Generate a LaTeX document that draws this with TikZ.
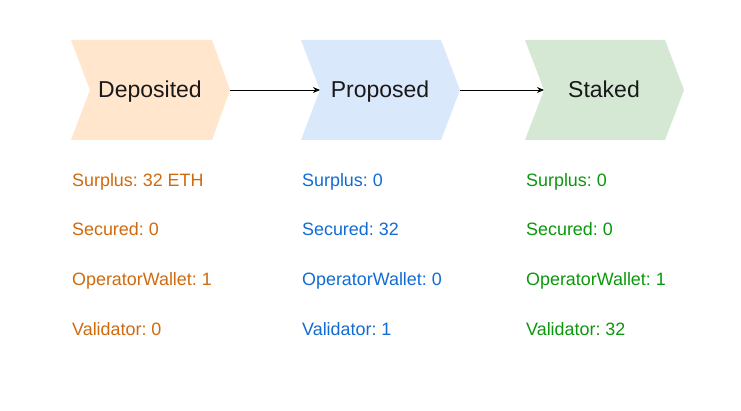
\documentclass[tikz,border=0pt]{standalone}
\usepackage{fontspec}
\setmainfont{Liberation Sans}
\usetikzlibrary{arrows.meta}
\definecolor{orfill}{HTML}{FFE6CC}
\definecolor{blfill}{HTML}{DAE8FC}
\definecolor{grfill}{HTML}{D5E8D4}
\definecolor{ortext}{RGB}{208,106,16}
\definecolor{bltext}{RGB}{18,108,212}
\definecolor{grtext}{RGB}{12,152,12}
\tikzset{
  chevlabel/.style={anchor=base, inner sep=0pt, font=\fontsize{23}{27}\selectfont\frenchspacing, text=black!90},
  info/.style={anchor=base west, inner sep=0pt, font=\fontsize{17.9}{21}\selectfont\frenchspacing},
  flow/.style={-{Stealth[length=7pt,width=6pt]}, line width=0.9pt, black},
}
\begin{document}
\begin{tikzpicture}[x=1pt,y=-1pt]
\useasboundingbox[fill=white] (0,0) rectangle (741,411);
% chevrons
\fill[orfill] (71,40) -- (212,40) -- (230,90) -- (212,140) -- (71,140) -- (90,90) -- cycle;
\fill[blfill] (301,40) -- (441,40) -- (460,90) -- (441,140) -- (301,140) -- (320,90) -- cycle;
\fill[grfill] (525,40) -- (665,40) -- (684,90) -- (665,140) -- (525,140) -- (544,90) -- cycle;
\coordinate (d-tip) at (230,90);
\coordinate (p-in) at (320,90);
\coordinate (p-tip) at (460,90);
\coordinate (s-in) at (544,90);
\node[chevlabel] (dep) at (150,98) {Deposited};
\node[chevlabel] (pro) at (380,98) {Proposed};
\node[chevlabel] (sta) at (604,98) {Staked};
\draw[flow] (d-tip) -- (p-in);
\draw[flow] (p-tip) -- (s-in);
% info texts
\node[info, text=ortext] (d1) at (72,186.5) {Surplus: 32 ETH};
\node[info, text=ortext] (d2) at (72,236) {Secured: 0};
\node[info, text=ortext] (d3) at (72,286) {OperatorWallet: 1};
\node[info, text=ortext] (d4) at (72,335.5) {Validator: 0};
\node[info, text=bltext] (p1) at (302,186.5) {Surplus: 0};
\node[info, text=bltext] (p2) at (302,236) {Secured: 32};
\node[info, text=bltext] (p3) at (302,286) {OperatorWallet: 0};
\node[info, text=bltext] (p4) at (302,335.5) {Validator: 1};
\node[info, text=grtext] (s1) at (526,186.5) {Surplus: 0};
\node[info, text=grtext] (s2) at (526,236) {Secured: 0};
\node[info, text=grtext] (s3) at (526,286) {OperatorWallet: 1};
\node[info, text=grtext] (s4) at (526,335.5) {Validator: 32};
\end{tikzpicture}
\end{document}
